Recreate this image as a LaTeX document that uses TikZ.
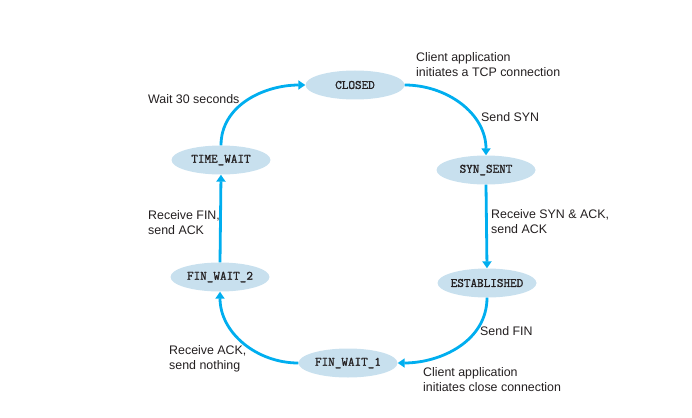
\documentclass[tikz,border=0pt]{standalone}
\usepackage{fontspec}
\setmainfont{Liberation Sans}
\newfontfamily\statefont[FakeBold=1.2]{Latin Modern Mono}
\usetikzlibrary{shapes.geometric,arrows.meta}
\definecolor{linecol}{HTML}{00AEEF}
\definecolor{fillcol}{HTML}{C8E0EE}
\definecolor{txtcol}{HTML}{231F20}
\tikzset{
  state/.style={ellipse, fill=fillcol, minimum width=99pt, minimum height=29pt, inner xsep=-6pt, inner ysep=0pt,
    font=\fontsize{12.8}{13}\selectfont\statefont, text=txtcol},
  conn/.style={draw=linecol, line width=2.8pt, -{Triangle[length=7pt,width=9pt]}},
  lbl/.style={anchor=west, align=left, font=\fontsize{12.4}{15}\selectfont, text=txtcol, inner sep=0pt}
}
\begin{document}
\begin{tikzpicture}[x=1pt,y=-1pt]
\useasboundingbox (0,0) rectangle (692,417);
\node[state] (closed) at (355,85) {CLOSED};
\node[state] (synsent) at (486,170) {SYN\_SENT};
\node[state] (est) at (487,283) {ESTABLISHED};
\node[state] (fw1) at (348,363) {FIN\_WAIT\_1};
\node[state] (fw2) at (220,277) {FIN\_WAIT\_2};
\node[state] (tw) at (221,160) {TIME\_WAIT};

\draw[conn] (closed.east) to[out=0,in=90] (synsent.north);
\draw[conn] (synsent.south) -- (est.north);
\draw[conn] (est.south) to[out=-90,in=0] (fw1.east);
\draw[conn] (fw1.west) to[out=180,in=-90] (fw2.south);
\draw[conn] (fw2.north) -- (tw.south);
\draw[conn] (tw.north) to[out=90,in=180] (closed.west);

\node[lbl] (l1) at (416,64.5) {Client application\\initiates a TCP connection};
\node[lbl] (l2) at (481,117) {Send SYN};
\node[lbl] (l3) at (491,221.5) {Receive SYN \& ACK,\\send ACK};
\node[lbl] (l4) at (480,331) {Send FIN};
\node[lbl] (l5) at (423,379.5) {Client application\\initiates close connection};
\node[lbl] (l6) at (169,358.5) {Receive ACK,\\send nothing};
\node[lbl] (l7) at (148,223) {Receive FIN,\\send ACK};
\node[lbl] (l8) at (148,99) {Wait 30 seconds};
\end{tikzpicture}
\end{document}
